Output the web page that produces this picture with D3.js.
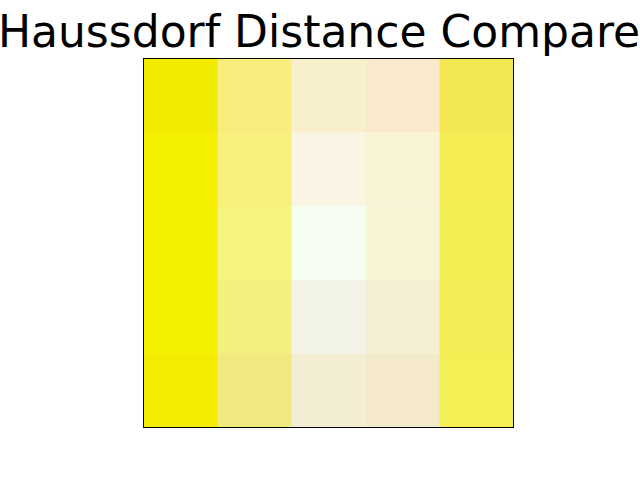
<!DOCTYPE html>
<html><head><meta charset="utf-8">
<script src="https://cdn.jsdelivr.net/npm/d3@7"></script>
<style>html,body{margin:0;padding:0;background:#fff;overflow:hidden}</style>
</head><body>
<svg id="chart" width="640" height="480"></svg>
<script>
const title = "Haussdorf Distance Compare";
const rows = [0, 1, 2, 3, 4];
const cols = [0, 1, 2, 3, 4];
// RGB channel values per cell (rows top to bottom)
const red = [
  [242, 248, 248, 248, 244],
  [245, 247, 250, 249, 244],
  [245, 244, 247, 248, 242],
  [245, 244, 243, 245, 242],
  [243, 242, 243, 244, 243]
];
const green = [
  [234, 236, 240, 234, 232],
  [239, 240, 244, 244, 238],
  [240, 244, 253, 244, 239],
  [240, 240, 243, 240, 236],
  [236, 234, 238, 234, 239]
];
const blue = [
  [0, 124, 204, 203, 82],
  [0, 124, 228, 214, 82],
  [0, 127, 240, 214, 85],
  [0, 127, 232, 211, 85],
  [0, 128, 211, 203, 85]
];

const svg = d3.select("#chart");
const x = d3.scaleBand().domain(cols).range([143.5, 513.5]);
const y = d3.scaleBand().domain(rows).range([58.5, 427.5]);

const cells = [];
rows.forEach(r => cols.forEach(c => cells.push({r, c, color: d3.rgb(red[r][c], green[r][c], blue[r][c])})));

svg.selectAll("rect.cell").data(cells).join("rect")
  .attr("class", "cell")
  .attr("x", d => x(d.c)).attr("y", d => y(d.r))
  .attr("width", x.bandwidth() + 0.5).attr("height", y.bandwidth() + 0.5)
  .attr("fill", d => d.color.formatHex());

svg.append("rect")
  .attr("x", 143.5).attr("y", 58.5)
  .attr("width", 370).attr("height", 369)
  .attr("fill", "none").attr("stroke", "#000").attr("stroke-width", 1);

svg.append("text")
  .attr("x", 319).attr("y", 47)
  .attr("text-anchor", "middle")
  .attr("font-family", "DejaVu Sans")
  .attr("font-size", 44)
  .attr("fill", "#000")
  .text(title);
</script>
</body></html>
